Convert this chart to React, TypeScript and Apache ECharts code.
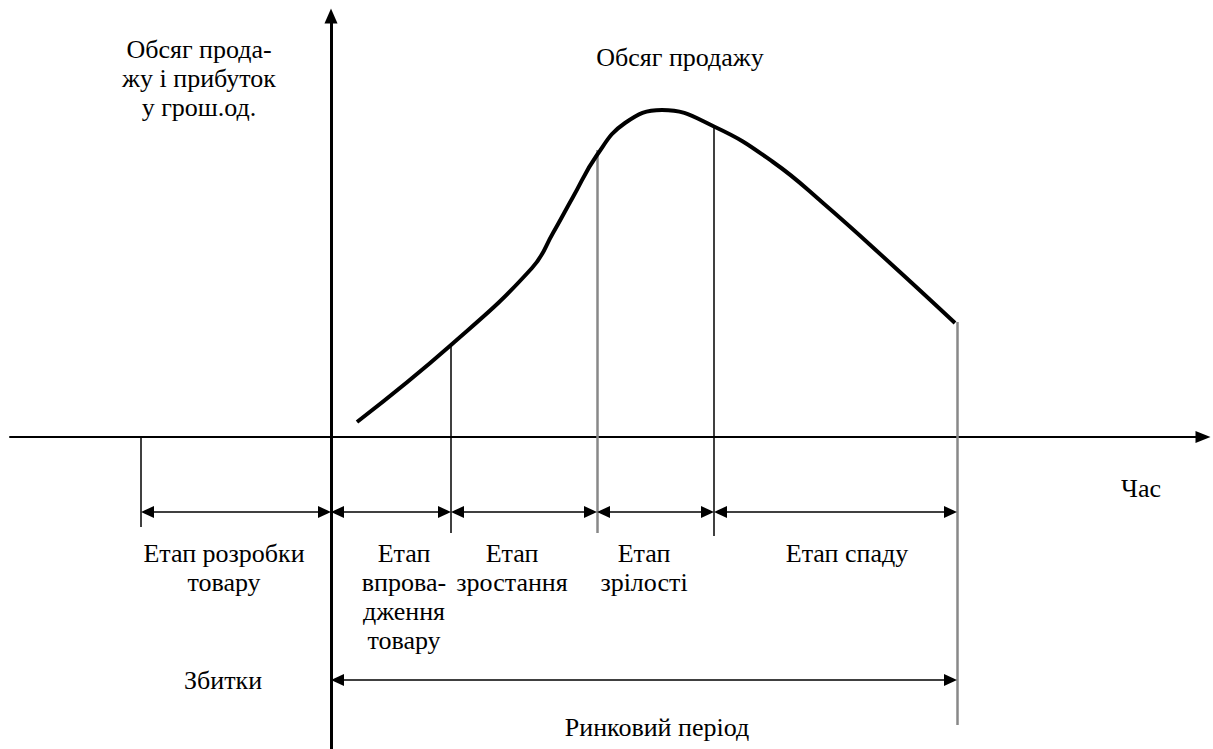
import React, { useEffect, useRef } from "react";
import * as echarts from "echarts";

// Sales curve (time units to the right of the origin, sales units above the time axis)
const curveTime = [26, 120, 201, 222, 242, 266, 294, 331, 384, 442, 492, 559, 624];
const curveSales = [15, 92, 169, 204, 240, 282, 314, 327, 310, 275, 234, 174, 114];

// Stage boundaries (vertical lines)
const boundaryTime = [-190, 120, 266, 383, 626];
const boundaryTop = [0, 92, 287, 312, 115];
const boundaryBottom = [-90, -96, -96, -99, -288];

// Stage spans (double-headed arrows)
const stageStart = [-190, 0, 120, 266, 383];
const stageEnd = [0, 120, 266, 383, 626];
const stageArrowLevel = -75;
const marketSpan = [0, 626];
const marketArrowLevel = -243;

// Texts
const yAxisTitle = "Обсяг прода-\nжу і прибуток\nу грош.од.";
const curveTitle = "Обсяг продажу";
const xAxisTitle = "Час";
const stageLabels = [
  "Етап розробки\nтовару",
  "Етап\nвпрова-\nдження\nтовару",
  "Етап\nзростання",
  "Етап\nзрілості",
  "Етап спаду",
];
const lossLabel = "Збитки";
const marketLabel = "Ринковий період";

const FONT_FAMILY = "Liberation Serif";
const FONT_SIZE = 26;

export default function App() {
  const ref = useRef<HTMLDivElement>(null);

  useEffect(() => {
    document.body.style.margin = "0";
    const chart = echarts.init(ref.current!, undefined, { renderer: "svg" });

    const grayIdx = new Set([2, 4]);
    const blackLines = boundaryTime
      .map((x, i) => ({ x, i }))
      .filter((d) => !grayIdx.has(d.i))
      .map((d) => ({ coords: [[d.x, boundaryTop[d.i]], [d.x, boundaryBottom[d.i]]] }));
    const grayLines = boundaryTime
      .map((x, i) => ({ x, i }))
      .filter((d) => grayIdx.has(d.i))
      .map((d) => ({ coords: [[d.x, boundaryTop[d.i]], [d.x, boundaryBottom[d.i]]] }));

    const arrowData = stageStart.map((s, i) => [s, stageEnd[i], stageArrowLevel]);
    arrowData.push([marketSpan[0], marketSpan[1], marketArrowLevel]);

    const text = (t: string, x: number, y: number) => ({
      type: "text",
      x,
      y,
      style: {
        text: t,
        fill: "#000",
        fontSize: FONT_SIZE,
        fontFamily: FONT_FAMILY,
        align: "center",
        verticalAlign: "middle",
        lineHeight: 29,
      },
    });

    const stageLabelPos = [
      [224, 568],
      [404, 597],
      [512, 568],
      [644, 568],
      [847, 553],
    ];

    chart.setOption({
      animation: false,
      backgroundColor: "#fff",
      grid: { left: 10, right: 10, top: 16, bottom: 0, containLabel: false },
      xAxis: {
        type: "value",
        min: -321,
        max: 872,
        axisLine: {
          show: true,
          onZero: true,
          symbol: ["none", "triangle"],
          symbolSize: [12, 15],
          lineStyle: { color: "#000", width: 2 },
        },
        axisTick: { show: false },
        axisLabel: { show: false },
        splitLine: { show: false },
      },
      yAxis: {
        type: "value",
        min: -312,
        max: 421,
        axisLine: {
          show: true,
          onZero: true,
          symbol: ["none", "triangle"],
          symbolSize: [13, 15],
          lineStyle: { color: "#000", width: 3 },
        },
        axisTick: { show: false },
        axisLabel: { show: false },
        splitLine: { show: false },
      },
      series: [
        {
          type: "lines",
          coordinateSystem: "cartesian2d",
          data: blackLines,
          lineStyle: { color: "#000", width: 1.5, opacity: 1 },
          silent: true,
        },
        {
          type: "lines",
          coordinateSystem: "cartesian2d",
          data: grayLines,
          lineStyle: { color: "#888", width: 2.5, opacity: 1 },
          silent: true,
        },
        {
          type: "line",
          data: curveTime.map((t, i) => [t, curveSales[i]]),
          smooth: 0.45,
          showSymbol: false,
          lineStyle: { color: "#000", width: 4 },
          silent: true,
          z: 5,
        },
        {
          type: "custom",
          coordinateSystem: "cartesian2d",
          data: arrowData,
          encode: { x: [0, 1], y: 2 },
          silent: true,
          renderItem: (params: any, api: any) => {
            const p1 = api.coord([api.value(0), api.value(2)]);
            const p2 = api.coord([api.value(1), api.value(2)]);
            const L = 13;
            const H = 6;
            return {
              type: "group",
              children: [
                {
                  type: "line",
                  shape: { x1: p1[0] + 4, y1: p1[1], x2: p2[0] - 4, y2: p2[1] },
                  style: { stroke: "#000", lineWidth: 1.5 },
                },
                {
                  type: "polygon",
                  shape: { points: [[p1[0], p1[1]], [p1[0] + L, p1[1] - H], [p1[0] + L, p1[1] + H]] },
                  style: { fill: "#000" },
                },
                {
                  type: "polygon",
                  shape: { points: [[p2[0], p2[1]], [p2[0] - L, p2[1] - H], [p2[0] - L, p2[1] + H]] },
                  style: { fill: "#000" },
                },
              ],
            };
          },
        },
      ],
      graphic: [
        text(yAxisTitle, 199, 78),
        text(curveTitle, 680, 57),
        text(xAxisTitle, 1141, 488),
        ...stageLabels.map((t, i) => text(t, stageLabelPos[i][0], stageLabelPos[i][1])),
        text(lossLabel, 223, 680),
        text(marketLabel, 657, 727),
      ],
    });

    return () => chart.dispose();
  }, []);

  return <div ref={ref} style={{ width: 1213, height: 749 }} />;
}
